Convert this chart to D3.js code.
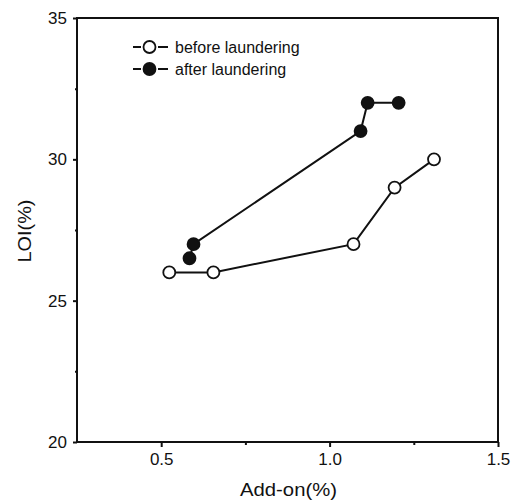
<!DOCTYPE html>
<html>
<head>
<meta charset="utf-8">
<script src="https://cdn.jsdelivr.net/npm/d3@7"></script>
<style>
  body { margin: 0; background: #fff; }
  text { font-family: "Liberation Sans", Arial, sans-serif; fill: #111; }
</style>
</head>
<body>
<script>
// data
var beforeX = [0.524, 0.655, 1.071, 1.193, 1.31];
var beforeY = [26, 26, 27, 29, 30];
var afterX = [0.584, 0.596, 1.092, 1.113, 1.205];
var afterY = [26.5, 27, 31, 32, 32];
var xTicks = [0.5, 1.0, 1.5];
var yTicks = [20, 25, 30, 35];
var legendNames = ["before laundering", "after laundering"];

var width = 515, height = 504;
var margin = {left: 77, right: 17, top: 18, bottom: 62};

var svg = d3.select('body').append('svg').attr('width', width).attr('height', height);

var x = d3.scaleLinear().domain([0.25, 1.5]).range([margin.left, width - margin.right]);
var y = d3.scaleLinear().domain([20, 35]).range([height - margin.bottom, margin.top]);

// frame
svg.append('rect')
  .attr('x', x(0.25)).attr('y', y(35))
  .attr('width', x(1.5) - x(0.25)).attr('height', y(20) - y(35))
  .attr('fill', 'none').attr('stroke', '#111').attr('stroke-width', 2);

var xAxis = svg.append('g').attr('transform', 'translate(0,' + y(20) + ')')
  .call(d3.axisBottom(x).tickValues(xTicks).tickFormat(d3.format('.1f')).tickSize(5).tickPadding(6));
var yAxis = svg.append('g').attr('transform', 'translate(' + x(0.25) + ',0)')
  .call(d3.axisLeft(y).tickValues(yTicks).tickFormat(d3.format('d')).tickSize(4).tickPadding(6));

// minor ticks
svg.append('g').attr('transform', 'translate(0,' + y(20) + ')')
  .call(d3.axisBottom(x).tickValues([0.75, 1.25]).tickFormat('').tickSize(3));
svg.append('g').attr('transform', 'translate(' + x(0.25) + ',0)')
  .call(d3.axisLeft(y).tickValues([22.5, 27.5, 32.5]).tickFormat('').tickSize(2));

svg.selectAll('.domain').remove();
svg.selectAll('.tick line').attr('stroke', '#111').attr('stroke-width', 2);
svg.selectAll('.tick text').attr('font-size', 17).attr('fill', '#111')
  .attr('font-family', '"Liberation Sans", Arial, sans-serif');

// axis titles
svg.append('text').attr('x', x(0.875) + 1).attr('y', 496)
  .attr('text-anchor', 'middle').attr('font-size', 18)
  .attr('textLength', 97).attr('lengthAdjust', 'spacingAndGlyphs').text('Add-on(%)');
svg.append('text').attr('transform', 'translate(31,231) rotate(-90)')
  .attr('text-anchor', 'middle').attr('font-size', 18)
  .attr('textLength', 63).attr('lengthAdjust', 'spacingAndGlyphs').text('LOI(%)');

var line = d3.line().x(function(d){ return x(d[0]); }).y(function(d){ return y(d[1]); });
var before = beforeX.map(function(v, i){ return [v, beforeY[i]]; });
var after = afterX.map(function(v, i){ return [v, afterY[i]]; });

[[before, '#fff'], [after, '#111']].forEach(function(s){
  svg.append('path').attr('d', line(s[0])).attr('fill', 'none')
    .attr('stroke', '#111').attr('stroke-width', 2);
  svg.selectAll(null).data(s[0]).enter().append('circle')
    .attr('cx', function(d){ return x(d[0]); })
    .attr('cy', function(d){ return y(d[1]); })
    .attr('r', 6).attr('fill', s[1]).attr('stroke', '#111').attr('stroke-width', 1.8);
});

// legend  -O-
var leg = svg.append('g');
legendNames.forEach(function(name, i){
  var ly = 47 + i * 22;
  leg.append('line').attr('x1', 133).attr('x2', 141).attr('y1', ly).attr('y2', ly)
    .attr('stroke', '#111').attr('stroke-width', 2);
  leg.append('line').attr('x1', 158).attr('x2', 168).attr('y1', ly).attr('y2', ly)
    .attr('stroke', '#111').attr('stroke-width', 2);
  leg.append('circle').attr('cx', 149.5).attr('cy', ly).attr('r', 6)
    .attr('fill', i == 0 ? '#fff' : '#111').attr('stroke', '#111').attr('stroke-width', 1.8);
  leg.append('text').attr('x', 175).attr('y', ly + 6).attr('font-size', 16).text(name);
});
</script>
</body>
</html>
